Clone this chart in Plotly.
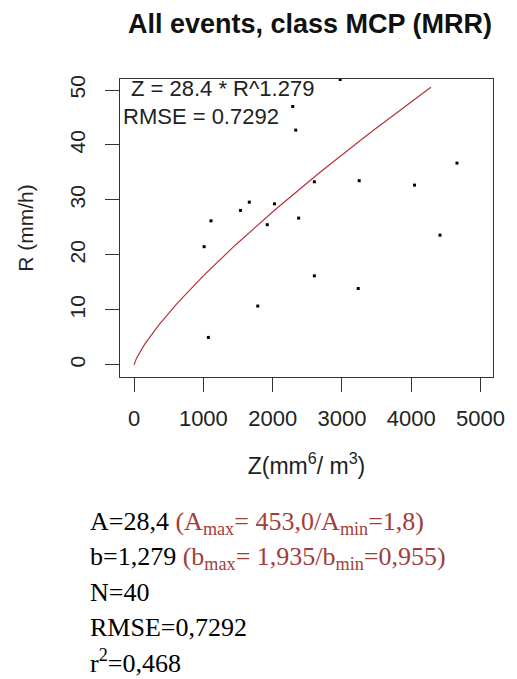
import plotly.graph_objects as go

# ---- data ----
z_obs = [2975, 2290, 2333, 4660, 2602, 3249, 4047, 1663, 2026, 1535,
         2375, 1922, 1110, 1011, 4415, 2602, 3235, 1785, 1072]
r_obs = [51.9, 47.0, 42.7, 36.7, 33.3, 33.5, 32.7, 29.6, 29.3, 28.1,
         26.7, 25.5, 26.2, 21.5, 23.6, 16.2, 13.9, 10.7, 5.0]

A_fit = 28.4
b_fit = 1.279
r_curve = [i * 0.5 for i in range(0, 102)]  # 0 .. 50.5 mm/h
z_curve = [A_fit * r ** b_fit for r in r_curve]

x_ticks = [0, 1000, 2000, 3000, 4000, 5000]
y_ticks = [0, 10, 20, 30, 40, 50]

title = "<b>All events, class MCP (MRR)</b>"
eq_text = "Z = 28.4 * R^1.279"
rmse_text = "RMSE = 0.7292"
red = "#A33D3A"
summary_lines = [
    f"A=28,4 <span style='color:{red}'>(A<sub>max</sub>= 453,0/A<sub>min</sub>=1,8)</span>",
    f"b=1,279 <span style='color:{red}'>(b<sub>max</sub>= 1,935/b<sub>min</sub>=0,955)</span>",
    "N=40",
    "RMSE=0,7292",
    "r<sup>2</sup>=0,468",
]

# ---- layout geometry (pixels) ----
W, H = 517, 679
L, R_, T, B = 120, 500, 79, 377
pw, ph = R_ - L, B - T


def px(x):
    return (x - L) / pw


def py(y):
    return (B - y) / ph


fig = go.Figure()
fig.add_trace(go.Scatter(x=z_curve, y=r_curve, mode="lines",
                         line=dict(color="#B5333A", width=1.2),
                         hoverinfo="skip", showlegend=False))
fig.add_trace(go.Scatter(x=z_obs, y=r_obs, mode="markers",
                         marker=dict(symbol="square", size=3, color="black"),
                         showlegend=False, cliponaxis=True))

sans = "Liberation Sans, Arial, sans-serif"
serif = "Liberation Serif, Times New Roman, serif"

fig.update_layout(
    width=W, height=H,
    margin=dict(l=L, r=W - R_, t=T, b=H - B),
    paper_bgcolor="white", plot_bgcolor="white",
    font=dict(family=sans, color="#222", size=20),
    title=dict(text=title, xref="container", x=310 / W, xanchor="center",
               y=1 - 24 / H, yanchor="middle",
               font=dict(size=27, color="#111", family=sans)),
    xaxis=dict(range=[-203, 5180], tickvals=x_ticks, ticks="outside",
               ticklen=14, tickcolor="#333", showline=True, mirror=True,
               linecolor="#333", linewidth=1.2, showgrid=False, zeroline=False,
               tickfont=dict(size=22, color="#222"), ticklabelstandoff=7,
               title=dict(text="Z(mm<sup>6</sup>/ m<sup>3</sup>)",
                          font=dict(size=23, color="#222"), standoff=28)),
    yaxis=dict(range=[-2.2, 52], tickvals=y_ticks, ticks="outside",
               ticklen=14, tickcolor="#333", showline=True, mirror=True,
               linecolor="#333", linewidth=1.2, showgrid=False, zeroline=False,
               tickangle=-90, tickfont=dict(size=21, color="#222"),
               ticklabelstandoff=12,
               title=dict(text="R (mm/h)", font=dict(size=21, color="#222"),
                          standoff=26)),
)

fig.add_annotation(text=eq_text, xref="paper", yref="paper",
                   x=px(129), y=py(88), xanchor="left", yanchor="middle",
                   showarrow=False, font=dict(size=22, color="#222", family=sans))
fig.add_annotation(text=rmse_text, xref="paper", yref="paper",
                   x=px(121), y=py(116), xanchor="left", yanchor="middle",
                   showarrow=False, font=dict(size=22, color="#222", family=sans))

line_y = [523, 558, 592, 627, 661]
for txt, yy in zip(summary_lines, line_y):
    fig.add_annotation(text=txt, xref="paper", yref="paper",
                       x=px(87), y=py(yy), xanchor="left", yanchor="middle",
                       showarrow=False, align="left",
                       font=dict(size=26, color="black", family=serif))

fig.write_html("out.html")
